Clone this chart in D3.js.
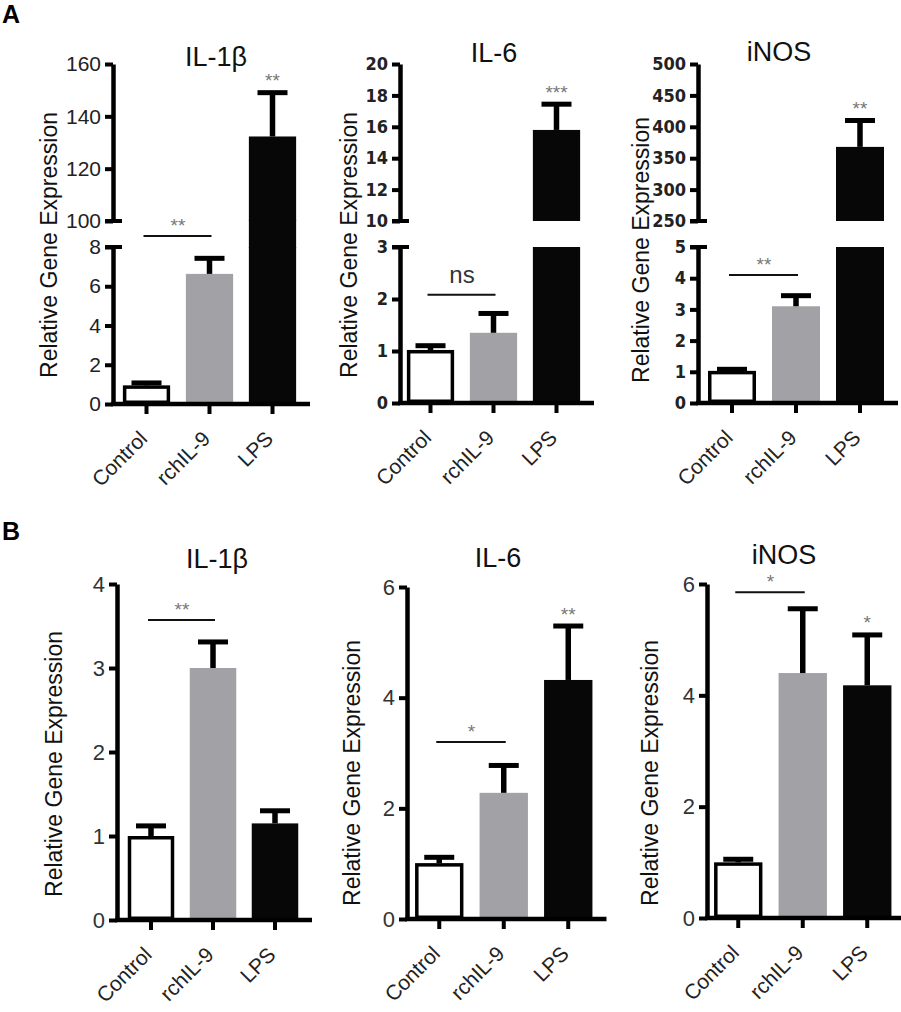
<!DOCTYPE html>
<html><head><meta charset="utf-8">
<script src="https://cdn.jsdelivr.net/npm/d3@7"></script>
<style>body{margin:0;background:#fff} svg{display:block}</style>
</head><body>
<svg id="chart" width="901" height="1012"></svg>
<script>
// ---------- DATA ----------
const categories = ["Control", "rchIL-9", "LPS"];
const barColors = ["#ffffff", "#a2a2a6", "#070707"];
const yLabel = "Relative Gene Expression";

// Panel A
const titlesA = ["IL-1β", "IL-6", "iNOS"];
const meanA_IL1b = [0.95, 6.63, 132.3];
const semA_IL1b  = [0.25, 0.92, 17.7];
const meanA_IL6  = [1.02, 1.35, 15.8];
const semA_IL6   = [0.13, 0.42, 1.8];
const meanA_iNOS = [1.03, 3.1, 368];
const semA_iNOS  = [0.13, 0.42, 46];
const lowTicksA_IL1b  = [0, 2, 4, 6, 8];
const highTicksA_IL1b = [100, 120, 140, 160];
const lowTicksA_IL6   = [0, 1, 2, 3];
const highTicksA_IL6  = [10, 12, 14, 16, 18, 20];
const lowTicksA_iNOS  = [0, 1, 2, 3, 4, 5];
const highTicksA_iNOS = [250, 300, 350, 400, 450, 500];
const sigPairA      = ["**", "ns", "**"];
const sigPairLevelA = [8.56, 2.08, 4.1];
const sigLpsA       = ["**", "***", "**"];

// Panel B
const titlesB = ["IL-1β", "IL-6", "iNOS"];
const meanB_IL1b = [1.0, 3.0, 1.15];
const semB_IL1b  = [0.15, 0.34, 0.18];
const meanB_IL6  = [1.01, 2.28, 4.32];
const semB_IL6   = [0.15, 0.54, 1.02];
const meanB_iNOS = [1.0, 4.4, 4.18];
const semB_iNOS  = [0.1, 1.2, 0.95];
const ticksB_IL1b = [0, 1, 2, 3, 4];
const ticksB_IL6  = [0, 2, 4, 6];
const ticksB_iNOS = [0, 2, 4, 6];
const sigPairB      = ["**", "*", "*"];
const sigPairLevelB = [3.57, 3.2, 5.85];
const sigLpsB       = ["", "**", "*"];

// ---------- LAYOUT ----------
const FONT = "'Liberation Sans', Arial, Helvetica, sans-serif";
const NARROW = "'Liberation Sans Narrow', 'Arial Narrow', 'DejaVu Sans Condensed', sans-serif";

const panels = [
  {title: titlesA[0], means: meanA_IL1b, sems: semA_IL1b, lowTicks: lowTicksA_IL1b, highTicks: highTicksA_IL1b,
   sig: sigPairA[0], sigLevel: sigPairLevelA[0], lps: sigLpsA[0],
   axisX: 113, off: 2, step: 63, lowTop: 247, lowBottom: 404, highTop: 64, highBottom: 221, gapFill: true,
   tickFont: FONT, tickSize: 21, tickWeight: "normal", tickFill: "#222", titleX: 216, titleY: 66, labX: 57, labY: 245},
  {title: titlesA[1], means: meanA_IL6, sems: semA_IL6, lowTicks: lowTicksA_IL6, highTicks: highTicksA_IL6,
   sig: sigPairA[1], sigLevel: sigPairLevelA[1], lps: sigLpsA[1],
   axisX: 400, off: -1, step: 63, lowTop: 247, lowBottom: 403, highTop: 64, highBottom: 221, gapFill: false,
   tickFont: NARROW, tickSize: 18, tickWeight: "bold", tickFill: "#222", titleX: 494, titleY: 62, labX: 357, labY: 245},
  {title: titlesA[2], means: meanA_iNOS, sems: semA_iNOS, lowTicks: lowTicksA_iNOS, highTicks: highTicksA_iNOS,
   sig: sigPairA[2], sigLevel: sigPairLevelA[2], lps: sigLpsA[2],
   axisX: 698, off: 2, step: 64, lowTop: 247, lowBottom: 403, highTop: 64, highBottom: 221, gapFill: false,
   tickFont: NARROW, tickSize: 18, tickWeight: "bold", tickFill: "#222", titleX: 779, titleY: 61, labX: 649, labY: 250},
  {title: titlesB[0], means: meanB_IL1b, sems: semB_IL1b, lowTicks: ticksB_IL1b, highTicks: null,
   sig: sigPairB[0], sigLevel: sigPairLevelB[0], lps: sigLpsB[0],
   axisX: 117, off: 3, step: 62, lowTop: 584, lowBottom: 920,
   tickFont: FONT, tickSize: 22, tickWeight: "normal", tickFill: "#333", titleX: 217, titleY: 568, labX: 62, labY: 764},
  {title: titlesB[1], means: meanB_IL6, sems: semB_IL6, lowTicks: ticksB_IL6, highTicks: null,
   sig: sigPairB[1], sigLevel: sigPairLevelB[1], lps: sigLpsB[1],
   axisX: 407, off: 0, step: 64.5, lowTop: 587, lowBottom: 919,
   tickFont: FONT, tickSize: 22, tickWeight: "normal", tickFill: "#333", titleX: 498, titleY: 567, labX: 360, labY: 773},
  {title: titlesB[2], means: meanB_iNOS, sems: semB_iNOS, lowTicks: ticksB_iNOS, highTicks: null,
   sig: sigPairB[2], sigLevel: sigPairLevelB[2], lps: sigLpsB[2],
   axisX: 707, off: -1, step: 64.5, lowTop: 584, lowBottom: 918,
   tickFont: FONT, tickSize: 22, tickWeight: "normal", tickFill: "#333", titleX: 784, titleY: 564, labX: 658, labY: 773}
];

const svg = d3.select("#chart");

svg.append("text").attr("x", 2).attr("y", 23).text("A")
  .style("font-family", FONT).style("font-weight", "bold").style("font-size", "25px");
svg.append("text").attr("x", 2).attr("y", 540).text("B")
  .style("font-family", FONT).style("font-weight", "bold").style("font-size", "25px");

function drawPanel(p) {
  const g = svg.append("g");
  const x = d3.scaleBand().domain(categories)
    .range([p.axisX + p.off, p.axisX + p.off + 3 * p.step])
    .paddingInner(0.25).paddingOuter(0.125);
  const lowMax = d3.max(p.lowTicks);
  const yLow = d3.scaleLinear().domain([0, lowMax]).range([p.lowBottom, p.lowTop]);
  const yHigh = p.highTicks ? d3.scaleLinear().domain(d3.extent(p.highTicks)).range([p.highBottom, p.highTop]) : null;
  const highMin = p.highTicks ? d3.min(p.highTicks) : null;
  const bw = x.bandwidth();

  // bars
  p.means.forEach((m, i) => {
    const x0 = x(categories[i]);
    const isCtrl = i === 0;
    const ins = isCtrl ? 1.75 : 0;
    const style = sel => sel.attr("fill", barColors[i])
      .attr("stroke", isCtrl ? "#000" : "none").attr("stroke-width", 3.5);
    let ys;
    if (!yHigh || m <= lowMax) {
      ys = yLow;
      g.append("rect").attr("x", x0 + ins).attr("width", bw - 2 * ins)
        .attr("y", yLow(m) + ins).attr("height", yLow(0) - yLow(m) - 2 * ins).call(style);
    } else {
      ys = yHigh;
      g.append("rect").attr("x", x0).attr("width", bw)
        .attr("y", yLow(lowMax)).attr("height", yLow(0) - yLow(lowMax)).call(style);
      g.append("rect").attr("x", x0).attr("width", bw)
        .attr("y", yHigh(m)).attr("height", yHigh(highMin) - yHigh(m)).call(style);
      if (p.gapFill) {
        g.append("rect").attr("x", x0).attr("width", bw)
          .attr("y", yHigh(highMin) - 1).attr("height", yLow(lowMax) - yHigh(highMin) + 2).call(style);
      }
    }
    // error bar (upper only)
    const cx = x0 + bw / 2;
    const yt = ys(m + p.sems[i]), yb = ys(m);
    g.append("line").attr("x1", cx).attr("x2", cx).attr("y1", yb).attr("y2", yt + 1)
      .attr("stroke", "#000").attr("stroke-width", 5.5);
    g.append("line").attr("x1", cx - 15).attr("x2", cx + 15).attr("y1", yt + 2.5).attr("y2", yt + 2.5)
      .attr("stroke", "#000").attr("stroke-width", 5);
    // LPS star
    if (i === 2 && p.lps) {
      g.append("text").attr("x", cx).attr("y", yt - 3).attr("text-anchor", "middle")
        .text(p.lps).style("font-family", FONT).style("font-size", "19px").style("fill", "#777");
    }
  });

  // y axes
  const styleAxis = (ga) => {
    ga.select(".domain").attr("stroke-width", 4.5).attr("stroke", "#000");
    ga.selectAll(".tick line").attr("stroke-width", 4).attr("stroke", "#000");
    ga.selectAll(".tick text").style("font-family", p.tickFont).style("font-size", p.tickSize + "px")
      .style("font-weight", p.tickWeight).style("fill", p.tickFill);
  };
  const gl = g.append("g").attr("transform", `translate(${p.axisX},0)`)
    .call(d3.axisLeft(yLow).tickValues(p.lowTicks).tickSize(8).tickSizeOuter(0).tickPadding(4).tickFormat(d3.format("d")));
  styleAxis(gl);
  if (yHigh) {
    const gh = g.append("g").attr("transform", `translate(${p.axisX},0)`)
      .call(d3.axisLeft(yHigh).tickValues(p.highTicks).tickSize(8).tickSizeOuter(0).tickPadding(4).tickFormat(d3.format("d")));
    styleAxis(gh);
    // break end caps
    [yLow(lowMax), yHigh(highMin)].forEach(yy => {
      g.append("line").attr("x1", p.axisX - 8).attr("x2", p.axisX + 9).attr("y1", yy).attr("y2", yy)
        .attr("stroke", "#000").attr("stroke-width", 4);
    });
  }

  // x axis
  const gx = g.append("g").attr("transform", `translate(0,${p.lowBottom})`)
    .call(d3.axisBottom(x).tickSize(10).tickSizeOuter(0));
  gx.select(".domain").remove();
  gx.selectAll(".tick line").attr("stroke-width", 4).attr("stroke", "#000");
  gx.selectAll(".tick text")
    .attr("x", 0).attr("y", 0).attr("dy", null)
    .attr("transform", "translate(2,36) rotate(-45)")
    .style("text-anchor", "end")
    .style("font-family", FONT).style("font-size", "21px").style("fill", "#222");
  g.append("line").attr("x1", p.axisX - 2).attr("x2", x.range()[1] + 6)
    .attr("y1", p.lowBottom).attr("y2", p.lowBottom).attr("stroke", "#000").attr("stroke-width", 4.5);

  // significance bracket
  const c1 = x(categories[0]) + bw / 2, c2 = x(categories[1]) + bw / 2;
  const ly = yLow(p.sigLevel);
  g.append("line").attr("x1", c1 - 3).attr("x2", c2 + 2).attr("y1", ly).attr("y2", ly)
    .attr("stroke", "#111").attr("stroke-width", 2);
  if (p.sig === "ns") {
    g.append("text").attr("x", (c1 + c2) / 2).attr("y", ly - 12).attr("text-anchor", "middle")
      .text(p.sig).style("font-family", FONT).style("font-size", "24px").style("fill", "#333");
  } else {
    g.append("text").attr("x", (c1 + c2) / 2).attr("y", ly - 4).attr("text-anchor", "middle")
      .text(p.sig).style("font-family", FONT).style("font-size", "19px").style("fill", "#777");
  }

  // title
  g.append("text").attr("x", p.titleX).attr("y", p.titleY).attr("text-anchor", "middle")
    .text(p.title).style("font-family", FONT).style("font-size", "27px").style("fill", "#111");
  // y label
  g.append("text").attr("transform", `translate(${p.labX},${p.labY}) rotate(-90)`)
    .attr("text-anchor", "middle").text(yLabel)
    .style("font-family", FONT).style("font-size", "23px").style("fill", "#111");
}

panels.forEach(drawPanel);
</script>
</body></html>
